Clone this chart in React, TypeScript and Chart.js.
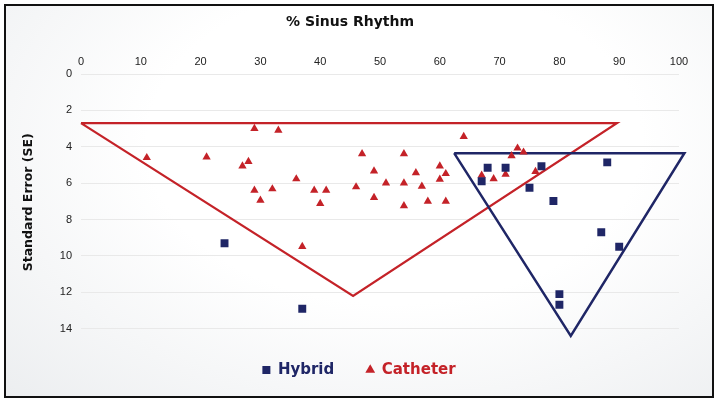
import React, { useEffect, useRef } from "react";
import { Chart, registerables } from "chart.js";

Chart.register(...registerables);

// ---- data ----
const hybridX = [24, 37, 68, 71, 77, 88, 67, 75, 79, 87, 90, 80, 80];
const hybridY = [9.3, 12.9, 5.15, 5.15, 5.07, 4.86, 5.9, 6.25, 6.98, 8.7, 9.5, 12.1, 12.68];

const catheterX = [29, 33, 11, 21, 27, 28, 36, 29, 32, 30, 39, 41, 40, 37, 64, 47, 54, 49, 56, 60, 61, 60, 46, 51, 54, 57, 49, 54, 58, 61, 67, 69, 73, 74, 72, 71, 76];
const catheterY = [3.0, 3.1, 4.6, 4.57, 5.06, 4.81, 5.77, 6.39, 6.32, 6.94, 6.39, 6.39, 7.12, 9.49, 3.44, 4.39, 4.39, 5.34, 5.43, 5.06, 5.48, 5.79, 6.21, 6.0, 6.0, 6.17, 6.79, 7.25, 7.0, 7.0, 5.57, 5.76, 4.08, 4.3, 4.5, 5.52, 5.36];

const catheterFunnelX = [0, 89.6, 45.5, 0];
const catheterFunnelY = [2.7, 2.7, 12.2, 2.7];
const hybridFunnelX = [62.4, 100.9, 81.9, 62.4];
const hybridFunnelY = [4.35, 4.35, 14.4, 4.35];

const xTicks = [0, 10, 20, 30, 40, 50, 60, 70, 80, 90, 100];
const yTicks = [0, 2, 4, 6, 8, 10, 12, 14];

const NAVY = "#1f2666";
const RED = "#c42228";

const pts = (xs: number[], ys: number[]) => xs.map((x, i) => ({ x, y: ys[i] }));

const legendShift = {
  id: "legendShift",
  afterLayout(chart: any) {
    const lg = chart.legend;
    if (lg) {
      lg.left += 9;
      lg.right += 9;
    }
  },
};

export default function App() {
  const ref = useRef<HTMLCanvasElement | null>(null);

  useEffect(() => {
    document.body.style.margin = "0";
    const canvas = ref.current;
    if (!canvas) return;
    const chart = new Chart(canvas, {
      type: "scatter",
      plugins: [legendShift],
      data: {
        datasets: [
          {
            label: "Hybrid",
            data: pts(hybridX, hybridY),
            pointStyle: "rect",
            pointRadius: 5.6,
            backgroundColor: NAVY,
            borderColor: NAVY,
            borderWidth: 0,
          },
          {
            label: "Catheter",
            data: pts(catheterX, catheterY),
            pointStyle: "triangle",
            pointRadius: 4.8,
            backgroundColor: RED,
            borderColor: RED,
            borderWidth: 0,
          },
          {
            label: "hybridFunnel",
            data: pts(hybridFunnelX, hybridFunnelY),
            showLine: true,
            pointRadius: 0,
            borderColor: NAVY,
            borderWidth: 2.5,
            clip: false,
          } as any,
          {
            label: "catheterFunnel",
            data: pts(catheterFunnelX, catheterFunnelY),
            showLine: true,
            pointRadius: 0,
            borderColor: RED,
            borderWidth: 2.3,
            clip: false,
          } as any,
        ],
      },
      options: {
        animation: false,
        responsive: false,
        devicePixelRatio: 1,
        layout: { padding: { left: 21, right: 38, top: 0, bottom: 15.5 } },
        plugins: {
          tooltip: { enabled: false },
          title: {
            display: true,
            text: "% Sinus Rhythm",
            color: "#111",
            font: { family: "'DejaVu Sans', sans-serif", size: 14, weight: "bold" },
            padding: { top: 13.6, bottom: 20.4 },
          },
          legend: {
            display: true,
            position: "bottom",
            labels: {
              usePointStyle: true,
              boxWidth: 8,
              boxHeight: 8,
              padding: 32,
              font: { family: "'DejaVu Sans', sans-serif", size: 15, weight: "bold" },
              filter: (item: any) => item.datasetIndex < 2,
              generateLabels: (ch: any) => {
                const items = Chart.defaults.plugins.legend.labels.generateLabels(ch);
                return items.map((it: any) => ({
                  ...it,
                  fontColor: it.datasetIndex === 0 ? NAVY : RED,
                }));
              },
            },
          },
        },
        scales: {
          x: {
            type: "linear",
            position: "top",
            min: 0,
            max: 100,
            afterBuildTicks: (s: any) => {
              s.ticks = xTicks.map((v) => ({ value: v }));
            },
            grid: { display: false, drawTicks: false },
            border: { display: false },
            ticks: {
              padding: 5,
              color: "#222",
              font: { family: "'Liberation Sans', Arial, sans-serif", size: 11 },
            },
          },
          y: {
            type: "linear",
            reverse: true,
            min: 0,
            max: 14.1,
            afterBuildTicks: (s: any) => {
              s.ticks = yTicks.map((v) => ({ value: v }));
            },
            afterFit: (s: any) => {
              s.width = 60;
            },
            grid: { color: "#e9e9e9", lineWidth: 1, drawTicks: false },
            border: { display: false },
            ticks: {
              padding: 9,
              color: "#222",
              font: { family: "'Liberation Sans', Arial, sans-serif", size: 11 },
            },
            title: {
              display: true,
              text: "Standard Error (SE)",
              color: "#111",
              font: { family: "'DejaVu Sans', sans-serif", size: 12.5, weight: "bold" },
              padding: { top: 0, bottom: 0 },
            },
          },
        },
      },
    });
    return () => chart.destroy();
  }, []);

  return (
    <div style={{ position: "fixed", left: 0, top: 0, width: 717, height: 403, background: "#fff" }}>
      <div
        style={{
          position: "absolute",
          left: 4,
          top: 4,
          width: 710,
          height: 394,
          boxSizing: "border-box",
          border: "2px solid #111",
          background: "radial-gradient(ellipse at 55% 35%, #ffffff 45%, #eceef0 100%)",
        }}
      />
      <canvas
        ref={ref}
        width={717}
        height={403}
        style={{ position: "absolute", left: 0, top: 0, width: 717, height: 403 }}
      />
    </div>
  );
}
